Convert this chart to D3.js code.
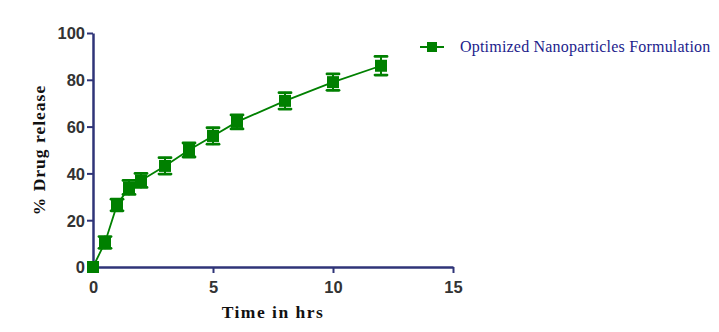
<!DOCTYPE html>
<html>
<head>
<meta charset="utf-8">
<script src="https://cdn.jsdelivr.net/npm/d3@7"></script>
<style>
  html, body { margin: 0; padding: 0; background: #fff; }
  svg { display: block; }
</style>
</head>
<body>
<div id="chart"></div>
<script>
// Cumulative drug release of the optimized nanoparticle formulation
const timeHrs   = [0, 0.5, 1, 1.5, 2, 3, 4, 5, 6, 8, 10, 12];
const releasePct = [0, 10.5, 26.5, 34, 37, 43.2, 50, 56, 62, 71, 79, 86];
const releaseSd  = [0, 2.5, 2.5, 3, 3, 3.5, 3, 3.5, 3, 3.5, 3.5, 4];
const xTicks = [0, 5, 10, 15];
const yTicks = [0, 20, 40, 60, 80, 100];
const seriesName = "Optimized Nanoparticles Formulation";

const W = 719, H = 332;
const axisColor = "#2f3478";
const green = "#008000";

const svg = d3.select("#chart").append("svg")
  .attr("width", W).attr("height", H);

const x = d3.scaleLinear().domain([0, 15]).range([93, 453]);
const y = d3.scaleLinear().domain([0, 100]).range([267, 33]);

// Axes
const xAxis = svg.append("g")
  .attr("transform", `translate(0,${y(0)})`)
  .call(d3.axisBottom(x).tickValues(xTicks).tickSize(6).tickSizeOuter(0));
const yAxis = svg.append("g")
  .attr("transform", `translate(${x(0)},0)`)
  .call(d3.axisLeft(y).tickValues(yTicks).tickSize(6).tickSizeOuter(0));

[xAxis, yAxis].forEach(g => {
  g.select(".domain").attr("stroke", axisColor).attr("stroke-width", 2.5);
  g.selectAll(".tick line").attr("stroke", axisColor).attr("stroke-width", 2);
  g.selectAll(".tick text")
    .attr("fill", "#333333")
    .style("font-family", "'Liberation Sans', Arial, sans-serif")
    .style("font-weight", "bold")
    .style("font-size", "16.5px");
});
xAxis.selectAll(".tick text").attr("dy", "1.05em");
yAxis.selectAll(".tick text").attr("x", -8).attr("dy", "0.36em");

// Axis titles
svg.append("text")
  .attr("x", x(7.5)).attr("y", 318)
  .attr("text-anchor", "middle")
  .style("font-family", "'Liberation Serif', 'Times New Roman', serif")
  .style("font-weight", "bold")
  .style("font-size", "17.5px")
  .style("letter-spacing", "1.5px")
  .attr("fill", "#111")
  .text("Time in hrs");

svg.append("text")
  .attr("transform", `translate(45,${y(50)}) rotate(-90)`)
  .attr("text-anchor", "middle")
  .style("font-family", "'Liberation Serif', 'Times New Roman', serif")
  .style("font-weight", "bold")
  .style("font-size", "17.5px")
  .style("letter-spacing", "1px")
  .attr("fill", "#111")
  .text("% Drug release");

const data = timeHrs.map((t, i) => ({ t, v: releasePct[i], sd: releaseSd[i] }));

// Connecting line
svg.append("path")
  .datum(data)
  .attr("fill", "none")
  .attr("stroke", green)
  .attr("stroke-width", 1.8)
  .attr("d", d3.line().x(d => x(d.t)).y(d => y(d.v)));

// Error bars
const eb = svg.append("g").attr("stroke", green).attr("stroke-linecap", "round");
data.filter(d => d.sd > 0).forEach(d => {
  const cx = x(d.t);
  eb.append("line").attr("x1", cx).attr("x2", cx)
    .attr("y1", y(d.v + d.sd)).attr("y2", y(d.v - d.sd)).attr("stroke-width", 2);
  [d.v + d.sd, d.v - d.sd].forEach(v => {
    eb.append("line").attr("x1", cx - 6).attr("x2", cx + 6)
      .attr("y1", y(v)).attr("y2", y(v)).attr("stroke-width", 2.8);
  });
});

// Square markers
const ms = 12;
svg.append("g").selectAll("rect").data(data).join("rect")
  .attr("x", d => x(d.t) - ms / 2)
  .attr("y", d => y(d.v) - ms / 2)
  .attr("width", ms).attr("height", ms)
  .attr("fill", green);

// Legend
const lg = svg.append("g").attr("transform", "translate(420,47)");
lg.append("line").attr("x1", 0).attr("x2", 24).attr("y1", 0).attr("y2", 0)
  .attr("stroke", green).attr("stroke-width", 2);
lg.append("rect").attr("x", 7).attr("y", -5).attr("width", 10).attr("height", 10).attr("fill", green);
lg.append("text")
  .attr("x", 40).attr("y", 5)
  .style("font-family", "'Liberation Serif', 'Times New Roman', serif")
  .style("font-size", "16px")
  .style("letter-spacing", "0.2px")
  .attr("fill", "#1c1c8c")
  .text(seriesName);
</script>
</body>
</html>
